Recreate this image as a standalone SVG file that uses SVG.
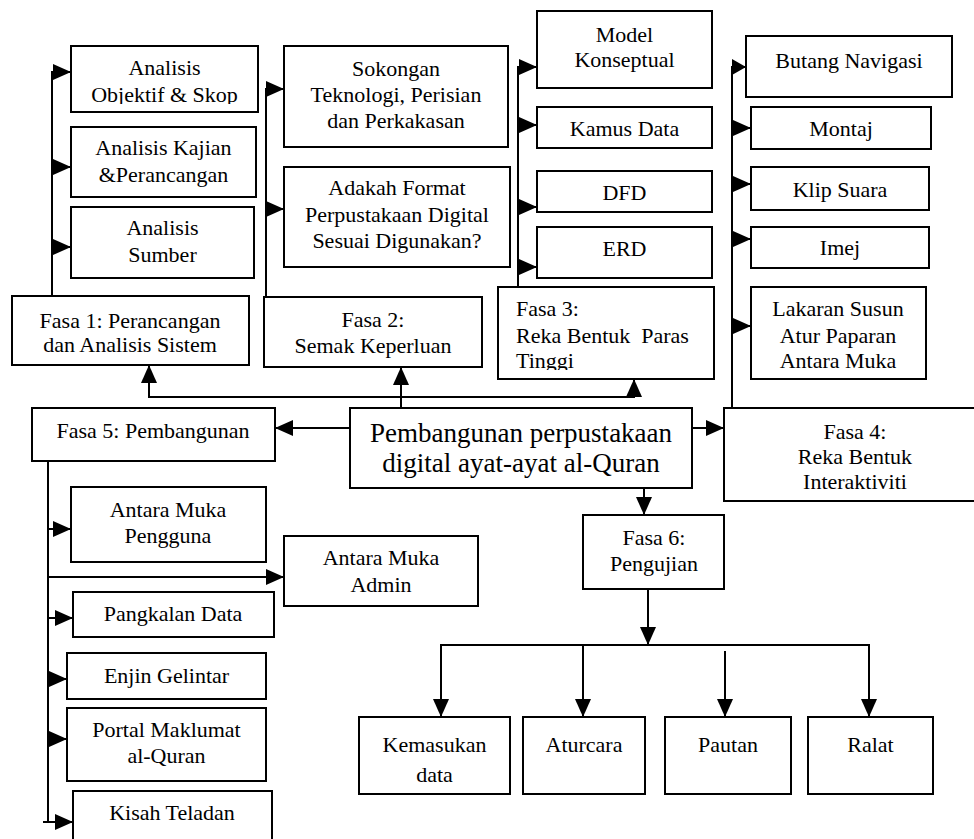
<svg xmlns="http://www.w3.org/2000/svg" width="974" height="839" viewBox="0 0 974 839">
<style>
.b{fill:#fff;stroke:#000;stroke-width:2}
.c{fill:none;stroke:#000;stroke-width:2}
.a{fill:none;stroke:#000;stroke-width:2;marker-end:url(#ah)}
.s{fill:none;stroke:#000;stroke-width:2;marker-end:url(#ahs)}
text{font-family:"Liberation Serif","Times New Roman",serif;font-size:22px;fill:#000;text-anchor:middle}
.l{text-anchor:start}
.big{font-size:27px}
</style>
<defs>
<marker id="ah" markerUnits="userSpaceOnUse" markerWidth="18" markerHeight="16" refX="18" refY="8" orient="auto"><path d="M0,0 L18,8 L0,16 Z" fill="#000"/></marker>
<marker id="ahs" markerUnits="userSpaceOnUse" markerWidth="14" markerHeight="16" refX="14" refY="8" orient="auto"><path d="M0,0 L14,8 L0,16 Z" fill="#000"/></marker>
<clipPath id="c1"><rect x="60" y="40" width="210" height="64"/></clipPath>
<clipPath id="c3"><rect x="500" y="288" width="212" height="82"/></clipPath>
<clipPath id="c6"><rect x="360" y="718" width="149" height="64"/></clipPath>
</defs>

<g id="connectors">
<path class="a" d="M52,296 V72 H71"/>
<path class="a" d="M52,167 H71"/>
<path class="a" d="M52,247 H71"/>
<path class="a" d="M266,297 V89 H284"/>
<path class="a" d="M266,209 H284"/>
<path class="a" d="M518,287 V67 H537"/>
<path class="a" d="M518,125 H537"/>
<path class="a" d="M518,207 H537"/>
<path class="a" d="M518,267 H537"/>
<path class="s" d="M732,408 V67 H746"/>
<path class="a" d="M732,128 H751"/>
<path class="a" d="M732,184 H751"/>
<path class="a" d="M732,239 H751"/>
<path class="a" d="M732,326 H751"/>
<path class="a" d="M401,408 V367"/>
<path class="a" d="M401,397 H149 V365"/>
<path class="a" d="M401,397 H634 V379"/>
<path class="a" d="M350,428 H275"/>
<path class="a" d="M692,428 H724"/>
<path class="a" d="M644,488 V515"/>
<path class="c" d="M48,461 V822"/>
<path class="a" d="M48,529 H71"/>
<path class="a" d="M48,577 H284"/>
<path class="a" d="M48,618 H73"/>
<path class="a" d="M48,679 H67"/>
<path class="a" d="M48,739 H67"/>
<path class="a" d="M43,822 H73"/>
<path class="a" d="M648,589 V645"/>
<path class="a" d="M648,645 H441 V717"/>
<path class="a" d="M648,645 H869 V717"/>
<path class="a" d="M583,645 V717"/>
<path class="a" d="M725,651 V717"/>
</g>

<g id="n_objektif"><rect class="b" x="71" y="46" width="187" height="66"/><g clip-path="url(#c1)"><text x="164.5" y="75">Analisis</text><text x="164.5" y="102">Objektif &amp; Skop</text></g></g>
<g id="n_kajian"><rect class="b" x="71" y="127" width="185" height="70"/><text x="163.5" y="155">Analisis Kajian</text><text x="163.5" y="182">&amp;Perancangan</text></g>
<g id="n_sumber"><rect class="b" x="71" y="207" width="183" height="71"/><text x="162.5" y="235">Analisis</text><text x="162.5" y="262">Sumber</text></g>
<g id="n_fasa1"><rect class="b" x="12" y="296" width="237" height="69"/><text x="130" y="328">Fasa 1: Perancangan</text><text x="130" y="352">dan Analisis Sistem</text></g>

<g id="n_sokongan"><rect class="b" x="284" y="46" width="224" height="101"/><text x="396" y="76">Sokongan</text><text x="396" y="102">Teknologi, Perisian</text><text x="396" y="128">dan Perkakasan</text></g>
<g id="n_adakah"><rect class="b" x="284" y="167" width="226" height="100"/><text x="397" y="195">Adakah Format</text><text x="397" y="222">Perpustakaan Digital</text><text x="397" y="248">Sesuai Digunakan?</text></g>
<g id="n_fasa2"><rect class="b" x="264" y="297" width="218" height="70"/><text x="373" y="327">Fasa 2:</text><text x="373" y="353">Semak Keperluan</text></g>

<g id="n_model"><rect class="b" x="537" y="11" width="175" height="77"/><text x="624.5" y="42">Model</text><text x="624.5" y="67">Konseptual</text></g>
<g id="n_kamus"><rect class="b" x="537" y="107" width="175" height="41"/><text x="624.5" y="136">Kamus Data</text></g>
<g id="n_dfd"><rect class="b" x="537" y="171" width="175" height="41"/><text x="624.5" y="200">DFD</text></g>
<g id="n_erd"><rect class="b" x="537" y="227" width="175" height="51"/><text x="624.5" y="256">ERD</text></g>
<g id="n_fasa3"><rect class="b" x="498" y="287" width="216" height="92"/><g clip-path="url(#c3)"><text class="l" x="516" y="316">Fasa 3:</text><text class="l" x="516" y="343" xml:space="preserve">Reka Bentuk  Paras</text><text class="l" x="516" y="368">Tinggi</text></g></g>

<g id="n_butang"><rect class="b" x="746" y="36" width="206" height="61"/><text x="849" y="68">Butang Navigasi</text></g>
<g id="n_montaj"><rect class="b" x="751" y="107" width="180" height="42"/><text x="841" y="136">Montaj</text></g>
<g id="n_klip"><rect class="b" x="751" y="167" width="178" height="43"/><text x="840" y="197">Klip Suara</text></g>
<g id="n_imej"><rect class="b" x="751" y="227" width="178" height="41"/><text x="840" y="255">Imej</text></g>
<g id="n_lakaran"><rect class="b" x="751" y="287" width="175" height="92"/><text x="838" y="316">Lakaran Susun</text><text x="838" y="343">Atur Paparan</text><text x="838" y="368">Antara Muka</text></g>
<g id="n_fasa4"><rect class="b" x="724" y="408" width="262" height="93"/><text x="855" y="439">Fasa 4:</text><text x="855" y="464">Reka Bentuk</text><text x="855" y="489">Interaktiviti</text></g>

<g id="n_pusat"><rect class="b" x="350" y="408" width="342" height="80"/><text class="big" x="521" y="442">Pembangunan perpustakaan</text><text class="big" x="521" y="472">digital ayat-ayat al-Quran</text></g>
<g id="n_fasa5"><rect class="b" x="32" y="408" width="243" height="53"/><text x="153" y="438">Fasa 5: Pembangunan</text></g>
<g id="n_fasa6"><rect class="b" x="583" y="515" width="141" height="74"/><text x="654" y="545">Fasa 6:</text><text x="654" y="571">Pengujian</text></g>

<g id="n_pengguna"><rect class="b" x="71" y="487" width="195" height="75"/><text x="168" y="517">Antara Muka</text><text x="168" y="543">Pengguna</text></g>
<g id="n_admin"><rect class="b" x="284" y="536" width="194" height="70"/><text x="381" y="565">Antara Muka</text><text x="381" y="592">Admin</text></g>
<g id="n_pangkalan"><rect class="b" x="73" y="592" width="201" height="45"/><text x="173" y="621">Pangkalan Data</text></g>
<g id="n_enjin"><rect class="b" x="67" y="653" width="199" height="46"/><text x="166.5" y="683">Enjin Gelintar</text></g>
<g id="n_portal"><rect class="b" x="67" y="708" width="199" height="73"/><text x="166.5" y="737">Portal Maklumat</text><text x="166.5" y="763">al-Quran</text></g>
<g id="n_kisah"><rect class="b" x="73" y="791" width="199" height="60"/><text x="172" y="820">Kisah Teladan</text></g>

<g id="n_kemasukan"><rect class="b" x="359" y="717" width="151" height="77"/><g clip-path="url(#c6)"><text x="434.5" y="752">Kemasukan</text><text x="434.5" y="782">data</text></g></g>
<g id="n_aturcara"><rect class="b" x="523" y="717" width="122" height="77"/><text x="584" y="752">Aturcara</text></g>
<g id="n_pautan"><rect class="b" x="665" y="717" width="126" height="77"/><text x="728" y="752">Pautan</text></g>
<g id="n_ralat"><rect class="b" x="808" y="717" width="125" height="77"/><text x="870.5" y="752">Ralat</text></g>
</svg>
